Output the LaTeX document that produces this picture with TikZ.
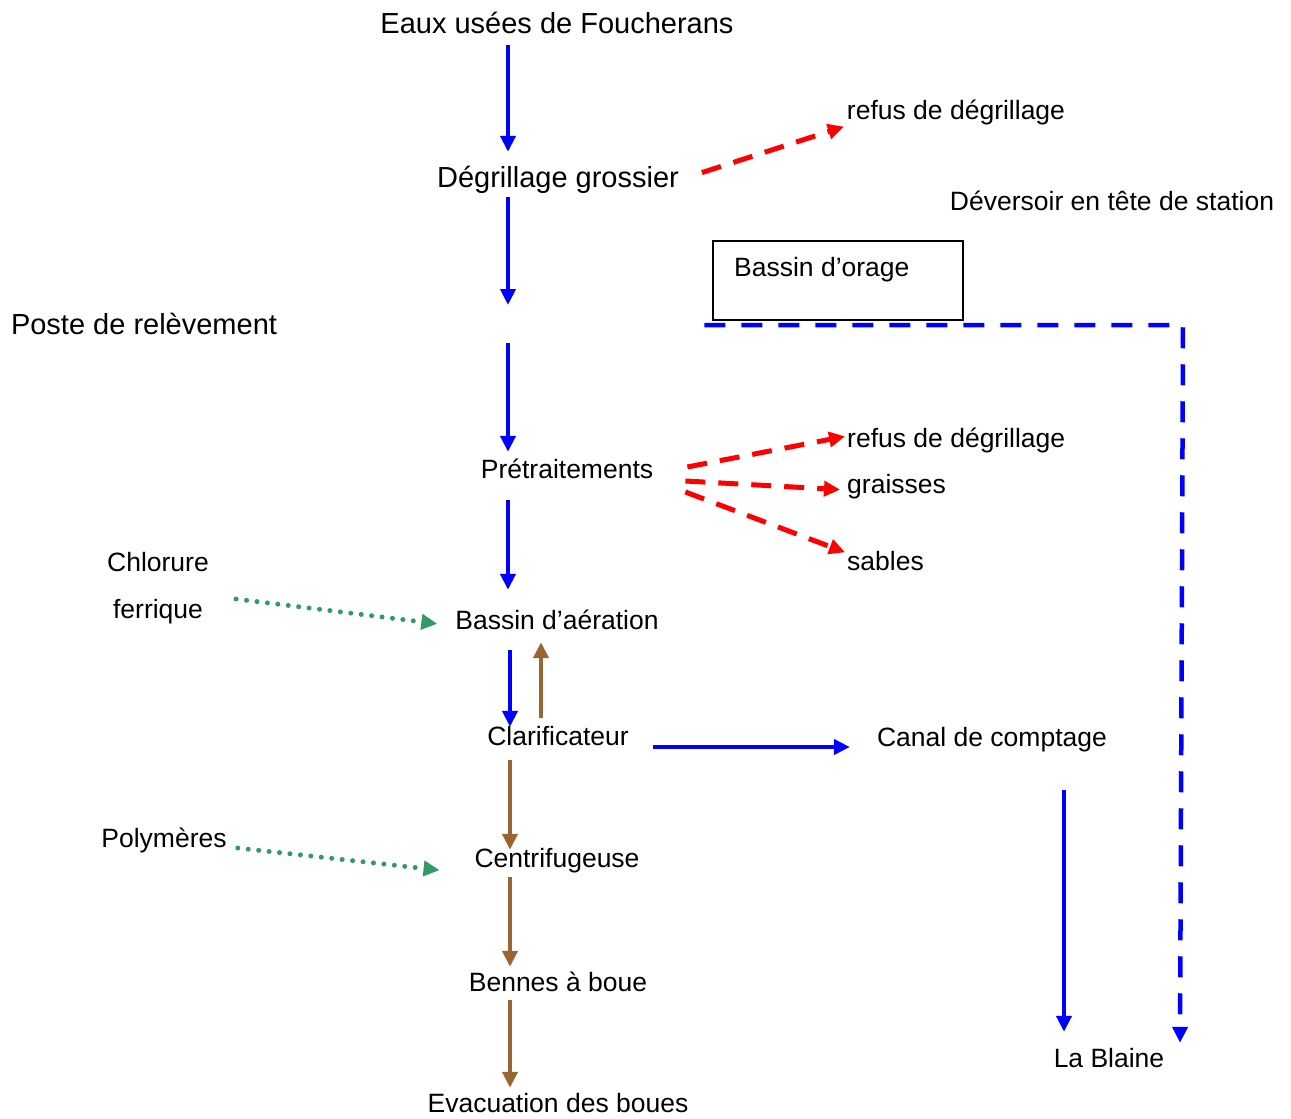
\documentclass[tikz,border=0pt]{standalone}
\usepackage{fontspec}
\setmainfont{Liberation Sans}
\usepackage{xcolor}
\usetikzlibrary{arrows.meta}

\definecolor{flowblue}{RGB}{0,0,255}
\definecolor{wastered}{RGB}{255,0,0}
\definecolor{sludgebrown}{RGB}{153,102,51}
\definecolor{dosegreen}{RGB}{51,153,102}

\tikzset{
  big/.style={font=\fontsize{29}{33}\selectfont, inner sep=0pt, text height=21pt, text depth=6pt},
  small/.style={font=\fontsize{26.5}{30}\selectfont, inner sep=0pt, text height=19pt, text depth=6pt},
  headtip/.style={-{Triangle[length=16pt,width=15pt]}},
  water/.style={headtip, flowblue, line width=4.5pt},
  sludge/.style={headtip, sludgebrown, line width=4.5pt},
  waste/.style={headtip, wastered, line width=5pt, dash pattern=on 20pt off 13pt},
  bypass/.style={headtip, flowblue, line width=4.5pt, dash pattern=on 21pt off 16pt},
  dose/.style={-{Triangle[length=16pt,width=15pt]}, dosegreen, line width=5pt, line cap=round, dash pattern=on 0pt off 10.5pt}
}

\begin{document}
\begin{tikzpicture}[x=1pt,y=-1pt]
	\useasboundingbox (0,0) rectangle (1291,1119);
	% noeuds
	\node[big] (eaux) at (557,26) {Eaux usées de Foucherans};
	\node[big] (degr) at (558,180) {Dégrillage grossier};
	\node[small] (refus1) at (956,113) {refus de dégrillage};
	\node[small] (devers) at (1112,204) {Déversoir en tête de station};
	\node[draw, line width=1.5pt, minimum width=250pt, minimum height=79pt] (orage) at (838,280.5) {};
	\node[small, anchor=west] (orageL) at (734,270) {Bassin d’orage};
	\node[big] (poste) at (144,327) {Poste de relèvement};
	\node[small] (pretr) at (567,472) {Prétraitements};
	\node[small, anchor=west] (refus2) at (847,441) {refus de dégrillage};
	\node[small, anchor=west] (graisses) at (847,487) {graisses};
	\node[small, anchor=west] (sables) at (847,564) {sables};
	\node[small] (chlor) at (158,565) {Chlorure};
	\node[small] (ferri) at (158,612) {ferrique};
	\node[small] (aera) at (557,623) {Bassin d’aération};
	\node[small] (clar) at (558,739) {Clarificateur};
	\node[small] (canal) at (992,740) {Canal de comptage};
	\node[small] (poly) at (164,841) {Polymères};
	\node[small] (centri) at (557,861) {Centrifugeuse};
	\node[small] (bennes) at (558,985) {Bennes à boue};
	\node[small] (evac) at (558,1106) {Evacuation des boues};
	\node[small] (blaine) at (1109,1061) {La Blaine};
	\coordinate (coin) at (1183,325);

	% file eau
	\draw[water, shorten <=5.5pt, shorten >=14.5pt] (eaux.south -| 508,0) -- (degr.north -| 508,0);
	\draw[water, shorten <=3.5pt, shorten >=22pt] (degr.south -| 508,0) -- (poste -| 508,0);
	\draw[water, shorten <=16pt, shorten >=7.5pt] (poste -| 508,0) -- (pretr.north -| 508,0);
	\draw[water, shorten <=15.5pt, shorten >=20.5pt] (pretr.south -| 508,0) -- (aera.north -| 508,0);
	\draw[water, shorten <=14.5pt, shorten >=-0.5pt] (aera.south -| 510,0) -- (clar.north -| 510,0);
	\draw[water, shorten <=24pt, shorten >=27pt] (clar.east |- 0,747) -- (canal.west |- 0,747);
	\draw[water, shorten <=37.5pt, shorten >=16.5pt] (canal.south -| 1064,0) -- (blaine.north -| 1064,0);
	\draw[bypass, shorten >=5.5pt] ([xshift=-8pt]orage.south west |- coin) -- (coin) -- (1180,0 |- blaine.north);

	% refus
	\draw[waste, shorten <=24pt, shorten >=3pt] (degr.east) -- (refus1.south west);
	\draw[waste, shorten >=2pt] (pretr.east) ++(34,-5) -- ([yshift=5pt]refus2.west);
	\draw[waste, shorten >=7pt] (pretr.east) ++(32,9) -- ([yshift=-3pt]graisses.west);
	\draw[waste, shorten >=2pt] (pretr.east) ++(32,20) -- ([yshift=11pt]sables.west);

	% boues
	\draw[sludge, shorten <=8.5pt, shorten >=6.5pt] (clar.north -| 541,0) -- (aera.south -| 541,0);
	\draw[sludge, shorten <=8.5pt, shorten >=-1.5pt] (clar.south -| 510,0) -- (centri.north -| 510,0);
	\draw[sludge, shorten <=3.5pt, shorten >=5.5pt] (centri.south -| 510,0) -- (bennes.north -| 510,0);
	\draw[sludge, shorten <=2.5pt, shorten >=5.5pt] (bennes.south -| 510,0) -- (evac.north -| 510,0);

	% reactifs
	\draw[dose, shorten >=18pt] (ferri.east) ++(33,-13) -- ([yshift=-3pt]aera.west);
	\draw[dose, shorten >=35pt] (poly.east) ++(11,7) -- ([yshift=-13pt]centri.west);
\end{tikzpicture}
\end{document}
